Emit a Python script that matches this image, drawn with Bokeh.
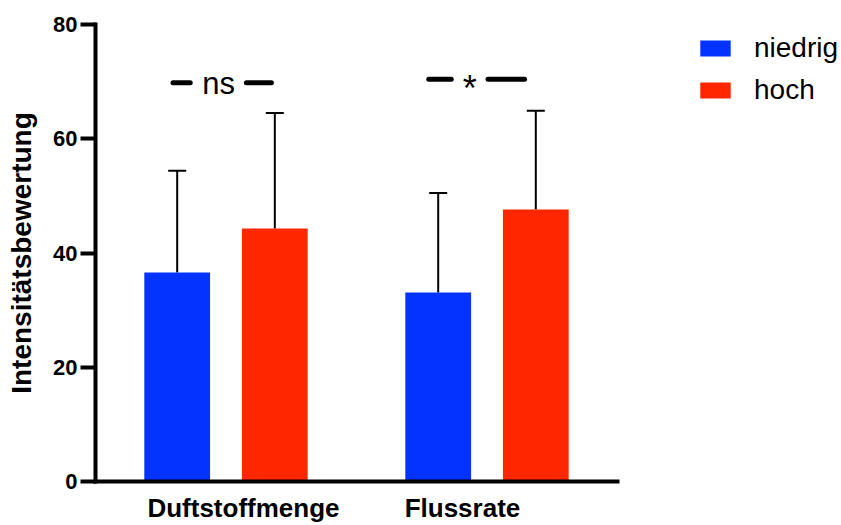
from bokeh.plotting import figure
from bokeh.models import (Range1d, FixedTicker, ColumnDataSource, Whisker, TeeHead,
                          Legend, LegendItem)
from bokeh.core.properties import value
from bokeh.embed import file_html
from bokeh.resources import INLINE

# ---- data ----
categories = ["Duftstoffmenge", "Flussrate"]
series = ["niedrig", "hoch"]
niedrig_mean = [36.6, 33.1]
niedrig_sd = [17.8, 17.4]
hoch_mean = [44.3, 47.6]
hoch_sd = [20.2, 17.3]
y_ticks = [0, 20, 40, 60, 80]

# significance annotations
sig_labels = ["ns", "*"]
sig_y = [69.8, 70.4]

# ---- layout helpers (positions in x data units) ----
group_x = [1, 2]
bar_offset = 0.187
bar_width = 0.252
axis_extent = (0.5, 2.5)
label_x = [1.067, 1.906]
sig_text_x = [0.972, 1.934]
sig_left = [(0.797, 0.863), (1.777, 1.863)]
sig_right = [(1.078, 1.174), (2.004, 2.144)]

FONT = "Liberation Sans"
BLUE = "#0433FF"
RED = "#FF2600"

# frame spans to the right edge so the legend can sit inside it; axis line limited by bounds
px_per_unit = 261.0
x_end = axis_extent[1] + (841 - 617) / px_per_unit

p = figure(width=841, height=525, x_range=Range1d(axis_extent[0], x_end), y_range=Range1d(0, 80),
           output_backend="svg", toolbar_location=None,
           min_border_left=95, min_border_right=0, min_border_top=24, min_border_bottom=42)
p.outline_line_color = None
p.grid.visible = False
p.background_fill_color = "white"
p.border_fill_color = "white"

renderers = []
for means, sds, off, col in [(niedrig_mean, niedrig_sd, -bar_offset, BLUE),
                             (hoch_mean, hoch_sd, bar_offset, RED)]:
    src = ColumnDataSource(dict(x=[g + off for g in group_x], top=means,
                                upper=[m + s for m, s in zip(means, sds)]))
    r = p.vbar(x="x", top="top", bottom=0, width=bar_width, source=src,
               fill_color=col, line_color=None)
    renderers.append(r)
    w = Whisker(base="x", lower="top", upper="upper", source=src, dimension="height",
                line_width=2, line_color="black", lower_head=None,
                upper_head=TeeHead(size=18, line_width=2, line_color="black"))
    p.add_layout(w)

# significance lines
for (a, b), (c, d), yv in zip(sig_left, sig_right, sig_y):
    p.segment(x0=[a, c], y0=[yv, yv], x1=[b, d], y1=[yv, yv],
              line_width=5, line_cap="round", line_color="black")
p.text(x=[sig_text_x[0]], y=[sig_y[0]], text=[sig_labels[0]], text_align="center",
       text_baseline="middle", text_font=value(FONT), text_font_size="31px", text_color="black",
       y_offset=1)
p.text(x=[sig_text_x[1]], y=[sig_y[1]], text=[sig_labels[1]], text_align="center",
       text_baseline="middle", text_font=value(FONT), text_font_size="36px", text_color="black",
       y_offset=9)

# axes
p.xaxis.bounds = axis_extent
p.xaxis.ticker = FixedTicker(ticks=label_x)
p.xaxis.major_label_overrides = {lx: c for lx, c in zip(label_x, categories)}
p.xaxis.major_tick_out = 0
p.xaxis.major_tick_in = 0
p.xaxis.minor_tick_line_color = None
p.xaxis.major_label_text_font = FONT
p.xaxis.major_label_text_font_style = "bold"
p.xaxis.major_label_text_font_size = "26px"
p.xaxis.major_label_text_color = "black"
p.xaxis.major_label_standoff = 11
p.xaxis.axis_line_width = 4
p.xaxis.axis_line_color = "black"
p.xaxis.axis_line_cap = "square"

p.yaxis.ticker = FixedTicker(ticks=y_ticks)
p.yaxis.major_tick_out = 15
p.yaxis.major_tick_in = 0
p.yaxis.major_tick_line_width = 4
p.yaxis.major_tick_line_color = "black"
p.yaxis.minor_tick_line_color = None
p.yaxis.major_label_text_font = FONT
p.yaxis.major_label_text_font_style = "bold"
p.yaxis.major_label_text_font_size = "22px"
p.yaxis.major_label_text_color = "black"
p.yaxis.major_label_standoff = 3
p.yaxis.axis_line_width = 4
p.yaxis.axis_line_color = "black"
p.yaxis.axis_line_cap = "square"
p.yaxis.axis_label = "Intensitätsbewertung"
p.yaxis.axis_label_text_font = FONT
p.yaxis.axis_label_text_font_style = "bold"
p.yaxis.axis_label_text_font_size = "28px"
p.yaxis.axis_label_text_color = "black"
p.yaxis.axis_label_standoff = 13

legend = Legend(items=[LegendItem(label=s, renderers=[r]) for s, r in zip(series, renderers)],
                location=(601, 375), padding=0, margin=0, spacing=10,
                glyph_width=38, glyph_height=20, label_standoff=20, label_height=20,
                label_text_font=FONT, label_text_font_size="28px", label_text_color="black",
                border_line_color=None, background_fill_alpha=0)
p.add_layout(legend)

open("out.html", "w").write(file_html(p, INLINE))
